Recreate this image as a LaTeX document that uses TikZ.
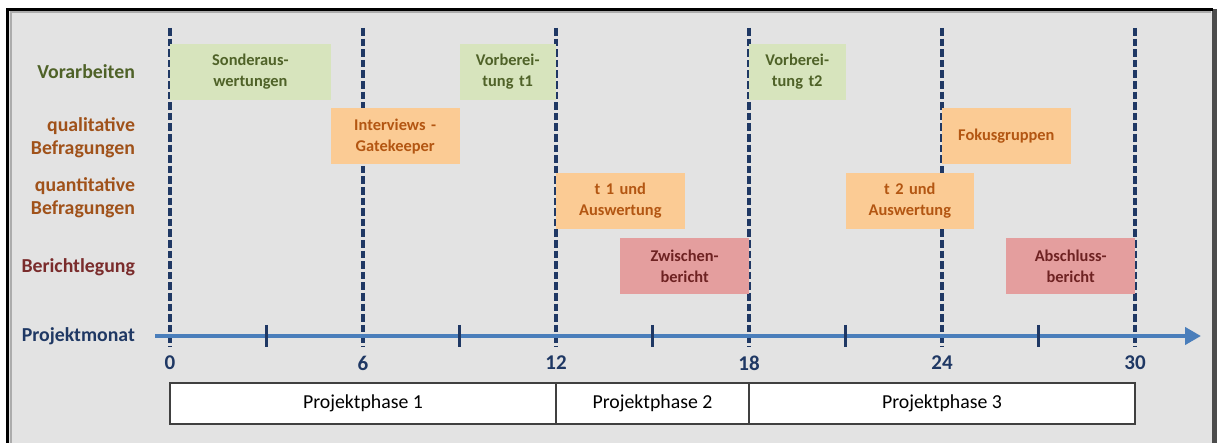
\documentclass[tikz,border=0pt]{standalone}
\usepackage{fontspec}
\setmainfont{Carlito}
\usetikzlibrary{arrows.meta}
\definecolor{bgc}{HTML}{E3E3E3}
\definecolor{navy}{HTML}{1F3864}
\definecolor{axisblue}{HTML}{4A7EBB}
\definecolor{gfill}{HTML}{D7E4BD}
\definecolor{gtext}{HTML}{4F6228}
\definecolor{ofill}{HTML}{FBCB94}
\definecolor{otext}{HTML}{B35612}
\definecolor{olabel}{HTML}{A0521A}
\definecolor{rfill}{HTML}{E49E9E}
\definecolor{rtext}{HTML}{6E2222}
\definecolor{rlabel}{HTML}{7A2C2C}
\definecolor{phaseline}{HTML}{404040}
\tikzset{
  rowlabel/.style={anchor=east,align=right,font=\bfseries\fontsize{9.9}{11.5}\selectfont},
  taskbox/.style={inner sep=0pt,minimum height=28pt,align=center,font=\bfseries\fontsize{8.2}{10.5}\selectfont},
  gbox/.style={taskbox,fill=gfill,text=gtext},
  obox/.style={taskbox,fill=ofill,text=otext},
  rbox/.style={taskbox,fill=rfill,text=rtext},
  vdash/.style={draw=navy,line width=1.9pt,dash pattern=on 3.8pt off 1.5pt},
  tickmark/.style={draw=navy,line width=1.8pt},
  monthnum/.style={text=navy,font=\bfseries\fontsize{10.5}{12}\selectfont},
  phasebox/.style={draw=phaseline,line width=0.8pt,fill=white,inner sep=0pt,minimum height=20.5pt,font=\fontsize{9.9}{11}\selectfont},
}
\begin{document}
\begin{tikzpicture}[x=0.5pt,y=-0.5pt]
\useasboundingbox (0,0) rectangle (1217,443);
\fill[white] (0,0) rectangle (1217,443);
\fill[bgc] (6,9) rectangle (1217,443);
\fill[gray!60!black] (1212,9) rectangle (1217,443);
\draw[gray!65,line width=1pt] (10.5,443) -- (10.5,12.5) -- (1211,12.5);
\draw[black,line width=1.5pt] (7,443) -- (7,10) -- (1213,10);

% row labels
\node[rowlabel,text=gtext] (lvor) at (142,72) {Vorarbeiten};
\node[rowlabel,text=olabel] (lqual) at (142,138) {qualitative\\Befragungen};
\node[rowlabel,text=olabel] (lquant) at (142,198) {quantitative\\Befragungen};
\node[rowlabel,text=rlabel] (lber) at (142,267) {Berichtlegung};
\node[rowlabel,text=navy] (lpm) at (142,336) {Projektmonat};

% vertical dashed lines
\foreach \m in {0,6,12,18,24,30}{
  \coordinate (t\m) at ({170+32.1667*\m},28);
  \coordinate (b\m) at ({170+32.1667*\m},347);
  \draw[vdash] (t\m) -- (b\m);
}

% task boxes
\node[gbox,minimum width=80.4pt,text width=80.4pt] (sond) at ({170+32.1667*2.5},72) {Sonderaus-\\wertungen};
\node[gbox,minimum width=48.25pt,text width=48.25pt] (vb1) at ({170+32.1667*10.5},72) {Vorberei-\\tung t1};
\node[gbox,minimum width=48.25pt,text width=48.25pt] (vb2) at ({170+32.1667*19.5},72) {Vorberei-\\tung t2};
\node[obox,minimum width=64.33pt,text width=64.33pt] (intv) at ({170+32.1667*7},136.5) {Interviews -\\Gatekeeper};
\node[obox,minimum width=64.33pt,text width=64.33pt] (fok) at ({170+32.1667*26},136.5) {Fokusgruppen};
\node[obox,minimum width=64.33pt,text width=64.33pt] (tone) at ({170+32.1667*14},201) {t 1 und\\Auswertung};
\node[obox,minimum width=64.33pt,text width=64.33pt] (ttwo) at ({170+32.1667*23},201) {t 2 und\\Auswertung};
\node[rbox,minimum width=64.33pt,text width=64.33pt] (zwb) at ({170+32.1667*16},266.5) {Zwischen-\\bericht};
\node[rbox,minimum width=64.33pt,text width=64.33pt] (absb) at ({170+32.1667*28},266.5) {Abschluss-\\bericht};

% axis
\coordinate (axstart) at (155,336);
\coordinate (axend) at (1201,336);
\draw[axisblue,line width=2.4pt,-{Triangle[length=8pt,width=8.5pt]}] (axstart) -- (axend);
\foreach \m in {3,9,15,21,27}{
  \coordinate (ta\m) at ({170+32.1667*\m},325);
  \coordinate (tb\m) at ({170+32.1667*\m},347);
  \draw[tickmark] (ta\m) -- (tb\m);
}
\foreach \m in {0,6,12,18,24,30}{
  \node[monthnum] (n\m) at ({170+32.1667*\m},363) {\m};
}

% phases
\node[phasebox,minimum width=193pt] (ph1) at ({170+32.1667*6},403.5) {Projektphase 1};
\node[phasebox,minimum width=96.5pt] (ph2) at ({170+32.1667*15},403.5) {Projektphase 2};
\node[phasebox,minimum width=193pt] (ph3) at ({170+32.1667*24},403.5) {Projektphase 3};
\end{tikzpicture}
\end{document}
